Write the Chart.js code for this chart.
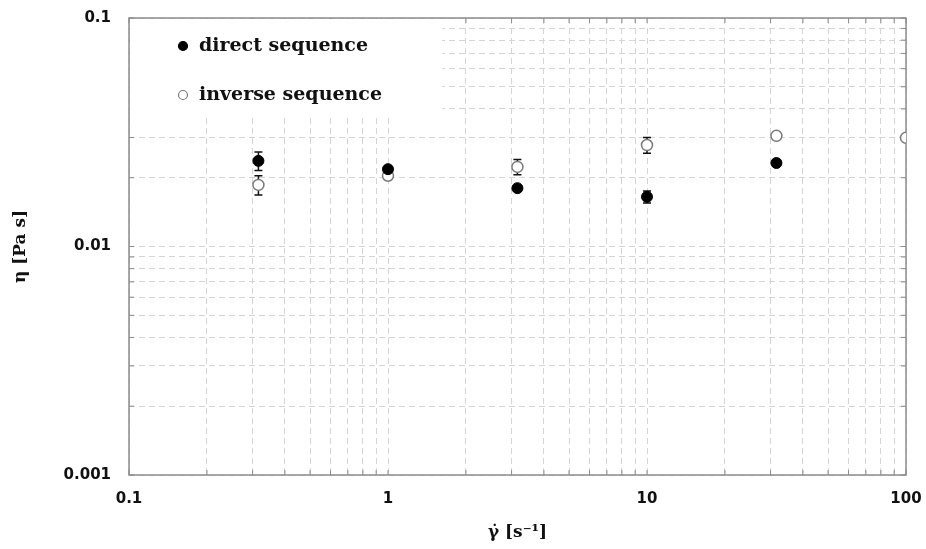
<!DOCTYPE html>
<html>
<head>
<meta charset="utf-8">
<script src="https://cdn.jsdelivr.net/npm/chart.js@4.4.1/dist/chart.umd.min.js"></script>
<style>
  html, body { margin: 0; padding: 0; background: #fff; }
  #wrap { width: 926px; height: 549px; }
</style>
</head>
<body>
<div id="wrap"><canvas id="grafico"></canvas></div>
<script>
  // dados
  var shearRates = [0.316, 1, 3.16, 10, 31.6, 100];
  var directVisc = [0.0237, 0.0218, 0.0180, 0.0165, 0.0232];
  var directErr = [0.0022, 0.0006, 0.0004, 0.0010, 0.0004];
  var inverseVisc = [0.0186, 0.0204, 0.0223, 0.0278, 0.0305, 0.0299];
  var inverseErr = [0.0018, 0.0005, 0.0017, 0.0022, 0, 0];
  var xTickLabels = ['0.1', '1', '10', '100'];
  var yTickLabels = ['0.001', '0.01', '0.1'];

  var serif = '"DejaVu Serif", "Liberation Serif", serif';
  var sans = '"DejaVu Sans", Verdana, sans-serif';

  function decadeTicks(labels) {
	var ticks = [];
	for (var i = 0; i < labels.length; i++) {
	  var d = parseFloat(labels[i]);
	  ticks.push({ value: d, major: true });
	  if (i < labels.length - 1) {
		for (var k = 2; k <= 9; k++) ticks.push({ value: d * k, major: false });
	  }
	}
	return ticks;
  }
  function labelFor(labels, v) {
	for (var i = 0; i < labels.length; i++) {
	  if (Math.abs(Math.log10(v) - Math.log10(parseFloat(labels[i]))) < 1e-6) return labels[i];
	}
	return '';
  }

  var pts = function (ys) {
	return ys.map(function (y, i) { return { x: shearRates[i], y: y }; });
  };

  // barras de erro, moldura e marcas internas
  var extras = {
	id: 'extras',
	beforeDatasetsDraw: function (chart) {
	  var ctx = chart.ctx, a = chart.chartArea;
	  var xs = chart.scales.x, ys = chart.scales.y;
	  ctx.save();
	  // moldura
	  ctx.strokeStyle = '#8c8c8c';
	  ctx.lineWidth = 1.5;
	  ctx.strokeRect(a.left, a.top, a.right - a.left, a.bottom - a.top);
	  // marcas
	  ctx.lineWidth = 1;
	  ctx.strokeStyle = '#8c8c8c';
	  xs.ticks.forEach(function (t) {
		var px = xs.getPixelForValue(t.value);
		ctx.beginPath();
		ctx.moveTo(px, a.bottom); ctx.lineTo(px, a.bottom - 5);
		ctx.moveTo(px, a.top); ctx.lineTo(px, a.top + 5);
		ctx.stroke();
	  });
	  ys.ticks.forEach(function (t) {
		var py = ys.getPixelForValue(t.value);
		ctx.beginPath();
		ctx.moveTo(a.left, py); ctx.lineTo(a.left + 5, py);
		ctx.moveTo(a.right, py); ctx.lineTo(a.right - 5, py);
		ctx.stroke();
	  });
	  // erros
	  ctx.strokeStyle = '#111';
	  ctx.lineWidth = 1.5;
	  [[directVisc, directErr], [inverseVisc, inverseErr]].forEach(function (s) {
		s[0].forEach(function (v, i) {
		  var e = s[1][i];
		  if (!e) return;
		  var px = xs.getPixelForValue(shearRates[i]);
		  var top = ys.getPixelForValue(v + e);
		  var bot = ys.getPixelForValue(v - e);
		  ctx.beginPath();
		  ctx.moveTo(px, top); ctx.lineTo(px, bot);
		  ctx.moveTo(px - 4, top); ctx.lineTo(px + 4, top);
		  ctx.moveTo(px - 4, bot); ctx.lineTo(px + 4, bot);
		  ctx.stroke();
		});
	  });
	  ctx.restore();
	},
	afterDraw: function (chart) {
	  var ctx = chart.ctx, a = chart.chartArea;
	  ctx.save();
	  ctx.fillStyle = '#fff';
	  ctx.fillRect(a.left + 1, a.top + 1, 312, 98);
	  ctx.font = 'bold 19px ' + serif;
	  ctx.textBaseline = 'middle';
	  chart.data.datasets.forEach(function (ds, i) {
		var y = a.top + 28 + i * 49;
		ctx.beginPath();
		ctx.arc(a.left + 54, y, 4.5, 0, Math.PI * 2);
		ctx.fillStyle = ds.pointBackgroundColor;
		ctx.fill();
		ctx.lineWidth = 1.2;
		ctx.strokeStyle = ds.pointBorderColor;
		ctx.stroke();
		ctx.fillStyle = '#111';
		ctx.fillText(ds.label, a.left + 70, y);
	  });
	  ctx.restore();
	}
  };

  var gridOpts = { color: '#d4d4d4', lineWidth: 1, drawTicks: false };

  var ctx = document.getElementById('grafico').getContext('2d');
  var grafico = new Chart(ctx, {
	type: 'scatter',
	data: {
	  datasets: [
		{
		  label: 'direct sequence',
		  data: pts(directVisc),
		  pointRadius: 5.5,
		  pointBackgroundColor: '#000',
		  pointBorderColor: '#000',
		  pointBorderWidth: 1
		},
		{
		  label: 'inverse sequence',
		  data: pts(inverseVisc),
		  pointRadius: 5.5,
		  pointBackgroundColor: '#fff',
		  pointBorderColor: '#7a7a7a',
		  pointBorderWidth: 1.5
		}
	  ]
	},
	options: {
	  responsive: true,
	  maintainAspectRatio: false,
	  animation: false,
	  layout: { padding: { top: 18, right: 20, left: 0, bottom: 0 } },
	  plugins: { legend: { display: false }, tooltip: { enabled: false } },
	  scales: {
		x: {
		  type: 'logarithmic',
		  min: 0.1, max: 100,
		  afterBuildTicks: function (s) { s.ticks = decadeTicks(xTickLabels); },
		  afterFit: function (s) { s.height = 74; s.paddingLeft = 0; s.paddingRight = 0; },
		  grid: gridOpts,
		  border: { display: false, dash: [6, 4] },
		  ticks: {
			autoSkip: false, maxRotation: 0, padding: 15, color: '#111',
			font: { family: sans, weight: 'bold', size: 15 },
			callback: function (v) { return labelFor(xTickLabels, v); }
		  },
		  title: {
			display: true, text: 'γ̇ [s⁻¹]', color: '#111',
			font: { family: serif, weight: 'bold', size: 17 },
			padding: { top: 0, bottom: 6 }
		  }
		},
		y: {
		  type: 'logarithmic',
		  min: 0.001, max: 0.1,
		  afterBuildTicks: function (s) { s.ticks = decadeTicks(yTickLabels); },
		  afterFit: function (s) { s.width = 129; s.paddingTop = 0; s.paddingBottom = 0; },
		  grid: gridOpts,
		  border: { display: false, dash: [6, 4] },
		  ticks: {
			autoSkip: false, padding: 18, color: '#111',
			font: { family: sans, weight: 'bold', size: 15 },
			callback: function (v) { return labelFor(yTickLabels, v); }
		  },
		  title: {
			display: true, text: 'η [Pa s]', color: '#111',
			font: { family: serif, weight: 'bold', size: 17 },
			padding: { top: 10, bottom: 0 }
		  }
		}
	  }
	},
	plugins: [extras]
  });
</script>
</body>
</html>
